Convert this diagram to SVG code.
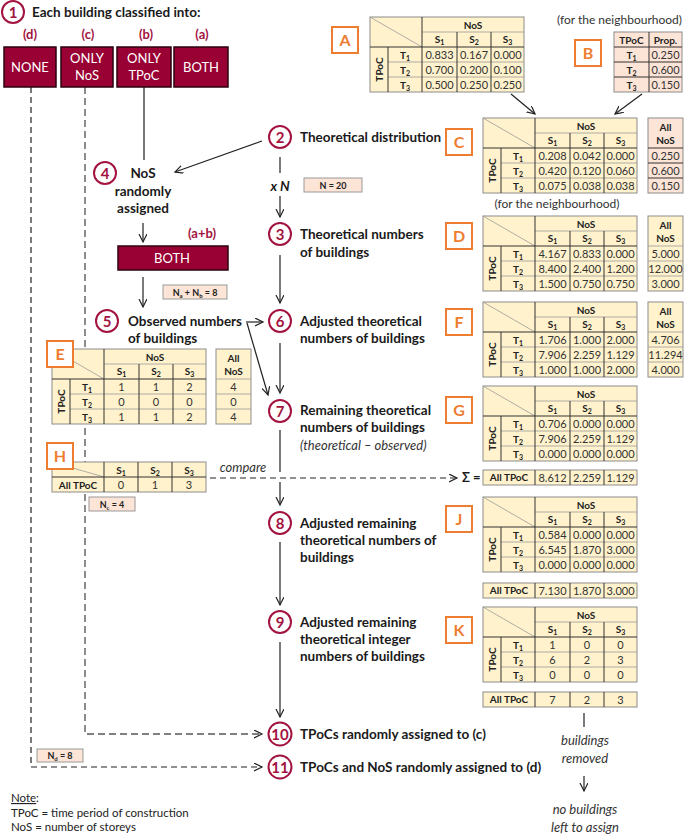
<svg xmlns="http://www.w3.org/2000/svg" xmlns:xlink="http://www.w3.org/1999/xlink" width="685" height="836" viewBox="0 0 685 836">
<style>
text{font-family:Lato,"Open Sans","Liberation Sans",sans-serif;}
.hd{font-weight:bold;font-size:13.5px;fill:#1a1a1a;}
.hdc{font-weight:bold;font-size:13.5px;fill:#1a1a1a;text-anchor:middle;}
.it{font-style:italic;font-size:13px;fill:#333;text-anchor:middle;}
.tb{font-weight:bold;font-size:10px;fill:#222;text-anchor:middle;}
.tv{font-size:11px;fill:#333;text-anchor:middle;}
.lbl{font-weight:bold;font-size:16px;fill:#ED7D31;text-anchor:middle;}
.cn{font-weight:bold;font-size:15px;fill:#A3133F;text-anchor:middle;}
.cat{font-weight:bold;font-size:13px;fill:#A3133F;text-anchor:middle;}
.wt{font-size:13px;fill:#fff;text-anchor:middle;}
.nb{font-weight:bold;font-size:9px;fill:#222;text-anchor:middle;}
.note{font-size:11.5px;fill:#222;}
.ty{fill:#FFF2CC;stroke:#8c8c8c;stroke-width:1;}
.tp{fill:#FCE4D6;stroke:#8c8c8c;stroke-width:1;}
.tl{fill:none;stroke:#9a9a9a;stroke-width:0.8;}
.td{fill:none;stroke:#333;stroke-width:1;}
.dark{fill:#990033;stroke:#2a0010;stroke-width:1.5;}
.circ{fill:#fff;stroke:#A3133F;stroke-width:2;}
.lb{fill:#fff;stroke:#ED7D31;stroke-width:2;}
.pk{fill:#FCE4D6;stroke:#9a9a9a;stroke-width:1;}
.ln{fill:none;stroke:#222;stroke-width:1.2;}
.lg{fill:none;stroke:#555;stroke-width:1.6;}
.dsh{fill:none;stroke:#222;stroke-width:1.2;stroke-dasharray:6,4;}
.dsg{fill:none;stroke:#808080;stroke-width:1.8;stroke-dasharray:7,4;}
</style>
<defs>
<marker id="ah" markerWidth="10" markerHeight="10" refX="8" refY="4" orient="auto" markerUnits="userSpaceOnUse">
<path d="M0,0 L8,4 L0,8" fill="none" stroke="#222" stroke-width="1.2"/>
</marker>
<g id="tf">
<rect width="154" height="75" class="ty"/>
<path d="M0,0 L52,30 M52,15 H154 M18,45 H154 M18,60 H154" class="tl"/>
<path d="M0,30 H154 M52,0 V75 M18,30 V75 M87,15 V75 M121,15 V75" class="td"/>
<text x="103" y="11.5" class="tb">NoS</text>
<text x="69.5" y="26" class="tb">S<tspan dy="2" font-size="7">1</tspan></text>
<text x="104" y="26" class="tb">S<tspan dy="2" font-size="7">2</tspan></text>
<text x="137.5" y="26" class="tb">S<tspan dy="2" font-size="7">3</tspan></text>
<text x="35" y="41.5" class="tb">T<tspan dy="2" font-size="7">1</tspan></text>
<text x="35" y="56.5" class="tb">T<tspan dy="2" font-size="7">2</tspan></text>
<text x="35" y="71.5" class="tb">T<tspan dy="2" font-size="7">3</tspan></text>
<text transform="translate(12.5,52.5) rotate(-90)" class="tb">TPoC</text>
</g>
<g id="any">
<rect width="35" height="75" class="ty"/>
<path d="M0,30 H35 M0,45 H35 M0,60 H35" class="tl"/>
<text x="17.5" y="13" class="tb">All</text>
<text x="17.5" y="26" class="tb">NoS</text>
</g>
<g id="sr">
<rect width="154" height="15" class="ty"/>
<path d="M52,0 V15 M87,0 V15 M121,0 V15" class="td"/>
<text x="26" y="11" class="tb">All TPoC</text>
</g>
</defs>

<rect width="685" height="836" fill="#fff"/>

<g id="connectors">
<path d="M31,87 V767 H262" class="dsh" marker-end="url(#ah)"/>
<path d="M85,87 V734 H262" class="dsg" marker-end="url(#ah)"/>
<path d="M144,87 V160" class="lg"/>
<path d="M262,141 L175,172" class="ln" marker-end="url(#ah)"/>
<path d="M143,223 V242" class="ln" marker-end="url(#ah)"/>
<path d="M143,277 V307" class="ln" marker-end="url(#ah)"/>
<path d="M280,157 V173" class="ln"/>
<path d="M280,196 V217" class="ln" marker-end="url(#ah)"/>
<path d="M280,255 V303" class="ln" marker-end="url(#ah)"/>
<path d="M246,322 H263" class="ln" marker-end="url(#ah)"/>
<path d="M247,323 L268,395" class="ln" marker-end="url(#ah)"/>
<path d="M280,343 V393" class="ln" marker-end="url(#ah)"/>
<path d="M280,430 V472" class="ln"/>
<path d="M280,482 V505" class="ln" marker-end="url(#ah)"/>
<path d="M210,478 H457" class="dsh" marker-end="url(#ah)"/>
<path d="M280,542 V605" class="ln" marker-end="url(#ah)"/>
<path d="M280,642 V717" class="ln" marker-end="url(#ah)"/>
<path d="M511,94 L535,114" class="ln" marker-end="url(#ah)"/>
<path d="M642,94 L615,114" class="ln" marker-end="url(#ah)"/>
<path d="M584,713 V727" class="ln"/>
<path d="M584,776 V791" class="ln" marker-end="url(#ah)"/>
</g>

<g id="n1">
<circle cx="13" cy="12" r="11" class="circ"/>
<text x="13" y="17.5" class="cn">1</text>
<text x="32" y="17" class="hd">Each building classified into:</text>
</g>
<g id="cat-d"><text x="30" y="39" class="cat">(d)</text><rect x="4" y="47" width="52" height="40" class="dark"/><text x="30" y="71.5" class="wt">NONE</text></g>
<g id="cat-c"><text x="88" y="39" class="cat">(c)</text><rect x="61" y="47" width="52" height="40" class="dark"/><text x="87" y="62.5" class="wt">ONLY</text><text x="87" y="80" class="wt">NoS</text></g>
<g id="cat-b"><text x="146" y="39" class="cat">(b)</text><rect x="117" y="47" width="54" height="40" class="dark"/><text x="144" y="62.5" class="wt">ONLY</text><text x="144" y="80" class="wt">TPoC</text></g>
<g id="cat-a"><text x="202" y="39" class="cat">(a)</text><rect x="174" y="47" width="54" height="40" class="dark"/><text x="201" y="71.5" class="wt">BOTH</text></g>

<g id="tableA">
<rect x="332" y="27" width="26" height="26" class="lb"/><text x="345" y="46" class="lbl">A</text>
<use xlink:href="#tf" href="#tf" x="370" y="17"/>
<g transform="translate(370,17)">
<text x="69.5" y="41.5" class="tv">0.833</text><text x="104" y="41.5" class="tv">0.167</text><text x="137.5" y="41.5" class="tv">0.000</text>
<text x="69.5" y="56.5" class="tv">0.700</text><text x="104" y="56.5" class="tv">0.200</text><text x="137.5" y="56.5" class="tv">0.100</text>
<text x="69.5" y="71.5" class="tv">0.500</text><text x="104" y="71.5" class="tv">0.250</text><text x="137.5" y="71.5" class="tv">0.250</text>
</g>
</g>

<g id="tableB">
<text x="682" y="24" class="tv" style="font-size:12px;text-anchor:end">(for the neighbourhood)</text>
<rect x="575" y="40" width="26" height="26" class="lb"/><text x="588" y="59" class="lbl">B</text>
<rect x="614" y="32" width="68" height="60" class="tp"/>
<path d="M614,47 H682 M614,62 H682 M614,77 H682 M649,32 V92" class="td"/>
<text x="631.5" y="43.5" class="tb">TPoC</text><text x="665.5" y="43.5" class="tb">Prop.</text>
<text x="631.5" y="58.5" class="tb">T<tspan dy="2" font-size="7">1</tspan></text><text x="665.5" y="58.5" class="tv">0.250</text>
<text x="631.5" y="73.5" class="tb">T<tspan dy="2" font-size="7">2</tspan></text><text x="665.5" y="73.5" class="tv">0.600</text>
<text x="631.5" y="88.5" class="tb">T<tspan dy="2" font-size="7">3</tspan></text><text x="665.5" y="88.5" class="tv">0.150</text>
</g>

<g id="n2">
<circle cx="280" cy="137" r="11" class="circ"/><text x="280" y="142.5" class="cn">2</text>
<text x="300" y="142" class="hd">Theoretical distribution</text>
</g>
<g id="xN">
<text x="280" y="191" class="hdc" style="font-style:italic">x N</text>
<rect x="304" y="178" width="58" height="14" class="pk"/><text x="333" y="188.5" class="nb">N =  20</text>
</g>
<g id="tableC">
<rect x="446" y="129" width="26" height="26" class="lb"/><text x="459" y="148" class="lbl">C</text>
<use xlink:href="#tf" href="#tf" x="483" y="118"/>
<g transform="translate(483,118)">
<text x="69.5" y="41.5" class="tv">0.208</text><text x="104" y="41.5" class="tv">0.042</text><text x="137.5" y="41.5" class="tv">0.000</text>
<text x="69.5" y="56.5" class="tv">0.420</text><text x="104" y="56.5" class="tv">0.120</text><text x="137.5" y="56.5" class="tv">0.060</text>
<text x="69.5" y="71.5" class="tv">0.075</text><text x="104" y="71.5" class="tv">0.038</text><text x="137.5" y="71.5" class="tv">0.038</text>
</g>
<g transform="translate(648,118)">
<rect width="35" height="75" class="tp"/>
<path d="M0,30 H35 M0,45 H35 M0,60 H35" class="td"/>
<text x="17.5" y="13" class="tb">All</text><text x="17.5" y="26" class="tb">NoS</text>
<text x="17.5" y="41.5" class="tv">0.250</text><text x="17.5" y="56.5" class="tv">0.600</text><text x="17.5" y="71.5" class="tv">0.150</text>
</g>
<text x="557" y="208" class="tv" style="font-size:12px">(for the neighbourhood)</text>
</g>

<g id="n3">
<circle cx="280" cy="234" r="11" class="circ"/><text x="280" y="239.5" class="cn">3</text>
<text x="300" y="239" class="hd">Theoretical numbers</text>
<text x="300" y="257" class="hd">of buildings</text>
</g>
<g id="tableD">
<rect x="446" y="223" width="26" height="26" class="lb"/><text x="459" y="242" class="lbl">D</text>
<use xlink:href="#tf" href="#tf" x="483" y="216"/>
<g transform="translate(483,216)">
<text x="69.5" y="41.5" class="tv">4.167</text><text x="104" y="41.5" class="tv">0.833</text><text x="137.5" y="41.5" class="tv">0.000</text>
<text x="69.5" y="56.5" class="tv">8.400</text><text x="104" y="56.5" class="tv">2.400</text><text x="137.5" y="56.5" class="tv">1.200</text>
<text x="69.5" y="71.5" class="tv">1.500</text><text x="104" y="71.5" class="tv">0.750</text><text x="137.5" y="71.5" class="tv">0.750</text>
</g>
<use xlink:href="#any" href="#any" x="648" y="216"/>
<g transform="translate(648,216)">
<text x="17.5" y="41.5" class="tv">5.000</text><text x="17.5" y="56.5" class="tv">12.000</text><text x="17.5" y="71.5" class="tv">3.000</text>
</g>
</g>

<g id="n4">
<circle cx="105" cy="173" r="11" class="circ"/><text x="105" y="178.5" class="cn">4</text>
<text x="143" y="178" class="hdc">NoS</text>
<text x="143" y="196" class="hdc">randomly</text>
<text x="143" y="213" class="hdc">assigned</text>
</g>
<g id="both-ab">
<text x="202" y="238" class="cat">(a+b)</text>
<rect x="118" y="246" width="110" height="24" class="dark"/><text x="172" y="262.5" class="wt">BOTH</text>
<rect x="163" y="285" width="64" height="14" class="pk"/>
<text x="195" y="295.5" class="nb">N<tspan dy="2" font-size="6">a</tspan><tspan dy="-2"> + N</tspan><tspan dy="2" font-size="6">b</tspan><tspan dy="-2"> =  8</tspan></text>
</g>

<g id="n5">
<circle cx="107" cy="321" r="11" class="circ"/><text x="107" y="326.5" class="cn">5</text>
<text x="128" y="326" class="hd">Observed numbers</text>
<text x="128" y="343" class="hd">of buildings</text>
</g>
<g id="n6">
<circle cx="280" cy="321" r="11" class="circ"/><text x="280" y="326.5" class="cn">6</text>
<text x="300" y="326" class="hd">Adjusted theoretical</text>
<text x="300" y="343" class="hd">numbers of buildings</text>
</g>
<g id="tableF">
<rect x="446" y="309" width="26" height="26" class="lb"/><text x="459" y="328" class="lbl">F</text>
<use xlink:href="#tf" href="#tf" x="483" y="302"/>
<g transform="translate(483,302)">
<text x="69.5" y="41.5" class="tv">1.706</text><text x="104" y="41.5" class="tv">1.000</text><text x="137.5" y="41.5" class="tv">2.000</text>
<text x="69.5" y="56.5" class="tv">7.906</text><text x="104" y="56.5" class="tv">2.259</text><text x="137.5" y="56.5" class="tv">1.129</text>
<text x="69.5" y="71.5" class="tv">1.000</text><text x="104" y="71.5" class="tv">1.000</text><text x="137.5" y="71.5" class="tv">2.000</text>
</g>
<use xlink:href="#any" href="#any" x="648" y="302"/>
<g transform="translate(648,302)">
<text x="17.5" y="41.5" class="tv">4.706</text><text x="17.5" y="56.5" class="tv">11.294</text><text x="17.5" y="71.5" class="tv">4.000</text>
</g>
</g>

<g id="tableE">
<use xlink:href="#tf" href="#tf" x="52" y="349"/>
<g transform="translate(52,349)">
<text x="69.5" y="41.5" class="tv">1</text><text x="104" y="41.5" class="tv">1</text><text x="137.5" y="41.5" class="tv">2</text>
<text x="69.5" y="56.5" class="tv">0</text><text x="104" y="56.5" class="tv">0</text><text x="137.5" y="56.5" class="tv">0</text>
<text x="69.5" y="71.5" class="tv">1</text><text x="104" y="71.5" class="tv">1</text><text x="137.5" y="71.5" class="tv">2</text>
</g>
<use xlink:href="#any" href="#any" x="216" y="349"/>
<g transform="translate(216,349)">
<text x="17.5" y="41.5" class="tv">4</text><text x="17.5" y="56.5" class="tv">0</text><text x="17.5" y="71.5" class="tv">4</text>
</g>
<rect x="47" y="341" width="26" height="26" class="lb"/><text x="60" y="360" class="lbl">E</text>
</g>

<g id="n7">
<circle cx="280" cy="411" r="11" class="circ"/><text x="280" y="416.5" class="cn">7</text>
<text x="300" y="415" class="hd">Remaining theoretical</text>
<text x="300" y="432" class="hd">numbers of buildings</text>
<text x="300" y="450" class="it" style="text-anchor:start">(theoretical – observed)</text>
</g>
<g id="tableG">
<rect x="446" y="397" width="26" height="26" class="lb"/><text x="459" y="416" class="lbl">G</text>
<use xlink:href="#tf" href="#tf" x="483" y="386"/>
<g transform="translate(483,386)">
<text x="69.5" y="41.5" class="tv">0.706</text><text x="104" y="41.5" class="tv">0.000</text><text x="137.5" y="41.5" class="tv">0.000</text>
<text x="69.5" y="56.5" class="tv">7.906</text><text x="104" y="56.5" class="tv">2.259</text><text x="137.5" y="56.5" class="tv">1.129</text>
<text x="69.5" y="71.5" class="tv">0.000</text><text x="104" y="71.5" class="tv">0.000</text><text x="137.5" y="71.5" class="tv">0.000</text>
</g>
<text x="462" y="482" class="hd" style="font-size:13px">Σ =</text>
<use xlink:href="#sr" href="#sr" x="483" y="470"/>
<g transform="translate(483,470)">
<text x="69.5" y="11.5" class="tv">8.612</text><text x="104" y="11.5" class="tv">2.259</text><text x="137.5" y="11.5" class="tv">1.129</text>
</g>
</g>

<g id="tableH">
<rect x="52" y="462" width="154" height="30" class="ty"/>
<path d="M52,462 L104,477" class="tl"/>
<path d="M52,477 H206 M104,462 V492 M138,462 V492 M172,462 V492" class="td"/>
<text x="121" y="474" class="tb">S<tspan dy="2" font-size="7">1</tspan></text>
<text x="155" y="474" class="tb">S<tspan dy="2" font-size="7">2</tspan></text>
<text x="189" y="474" class="tb">S<tspan dy="2" font-size="7">3</tspan></text>
<text x="78" y="488.5" class="tb">All TPoC</text>
<text x="121" y="488.5" class="tv">0</text><text x="155" y="488.5" class="tv">1</text><text x="189" y="488.5" class="tv">3</text>
<rect x="47" y="443" width="26" height="26" class="lb"/><text x="60" y="462" class="lbl">H</text>
<text x="243" y="472" class="it">compare</text>
<rect x="89" y="497" width="46" height="14" class="pk"/>
<text x="112" y="507.5" class="nb">N<tspan dy="2" font-size="6">c</tspan><tspan dy="-2"> =  4</tspan></text>
</g>

<g id="n8">
<circle cx="280" cy="523" r="11" class="circ"/><text x="280" y="528.5" class="cn">8</text>
<text x="300" y="528" class="hd">Adjusted remaining</text>
<text x="300" y="545" class="hd">theoretical numbers of</text>
<text x="300" y="562" class="hd">buildings</text>
</g>
<g id="tableJ">
<rect x="446" y="506" width="26" height="26" class="lb"/><text x="459" y="525" class="lbl">J</text>
<use xlink:href="#tf" href="#tf" x="483" y="497"/>
<g transform="translate(483,497)">
<text x="69.5" y="41.5" class="tv">0.584</text><text x="104" y="41.5" class="tv">0.000</text><text x="137.5" y="41.5" class="tv">0.000</text>
<text x="69.5" y="56.5" class="tv">6.545</text><text x="104" y="56.5" class="tv">1.870</text><text x="137.5" y="56.5" class="tv">3.000</text>
<text x="69.5" y="71.5" class="tv">0.000</text><text x="104" y="71.5" class="tv">0.000</text><text x="137.5" y="71.5" class="tv">0.000</text>
</g>
<use xlink:href="#sr" href="#sr" x="483" y="583"/>
<g transform="translate(483,583)">
<text x="69.5" y="11.5" class="tv">7.130</text><text x="104" y="11.5" class="tv">1.870</text><text x="137.5" y="11.5" class="tv">3.000</text>
</g>
</g>

<g id="n9">
<circle cx="280" cy="622" r="11" class="circ"/><text x="280" y="627.5" class="cn">9</text>
<text x="300" y="627" class="hd">Adjusted remaining</text>
<text x="300" y="644" class="hd">theoretical integer</text>
<text x="300" y="661" class="hd">numbers of buildings</text>
</g>
<g id="tableK">
<rect x="446" y="617" width="26" height="26" class="lb"/><text x="459" y="636" class="lbl">K</text>
<use xlink:href="#tf" href="#tf" x="483" y="607"/>
<g transform="translate(483,607)">
<text x="69.5" y="41.5" class="tv">1</text><text x="104" y="41.5" class="tv">0</text><text x="137.5" y="41.5" class="tv">0</text>
<text x="69.5" y="56.5" class="tv">6</text><text x="104" y="56.5" class="tv">2</text><text x="137.5" y="56.5" class="tv">3</text>
<text x="69.5" y="71.5" class="tv">0</text><text x="104" y="71.5" class="tv">0</text><text x="137.5" y="71.5" class="tv">0</text>
</g>
<use xlink:href="#sr" href="#sr" x="483" y="692"/>
<g transform="translate(483,692)">
<text x="69.5" y="11.5" class="tv">7</text><text x="104" y="11.5" class="tv">2</text><text x="137.5" y="11.5" class="tv">3</text>
</g>
<text x="585" y="745" class="it">buildings</text>
<text x="585" y="763" class="it">removed</text>
<text x="585" y="814" class="it">no buildings</text>
<text x="585" y="832" class="it">left to assign</text>
</g>

<g id="n10">
<circle cx="280" cy="734" r="11.5" class="circ"/><text x="280" y="739.5" class="cn">10</text>
<text x="300" y="739" class="hd">TPoCs randomly assigned to (c)</text>
</g>
<g id="n11">
<circle cx="280" cy="767" r="11.5" class="circ"/><text x="280" y="772.5" class="cn">11</text>
<text x="300" y="772" class="hd">TPoCs and NoS randomly assigned to (d)</text>
<rect x="37" y="749" width="46" height="13" class="pk"/>
<text x="60" y="759" class="nb">N<tspan dy="2" font-size="6">d</tspan><tspan dy="-2"> =  8</tspan></text>
</g>

<g id="note">
<text x="11" y="802" class="note" text-decoration="underline">Note</text><text x="36" y="802" class="note">:</text>
<text x="11" y="817" class="note">TPoC = time period of construction</text>
<text x="11" y="831" class="note">NoS = number of storeys</text>
</g>
</svg>
